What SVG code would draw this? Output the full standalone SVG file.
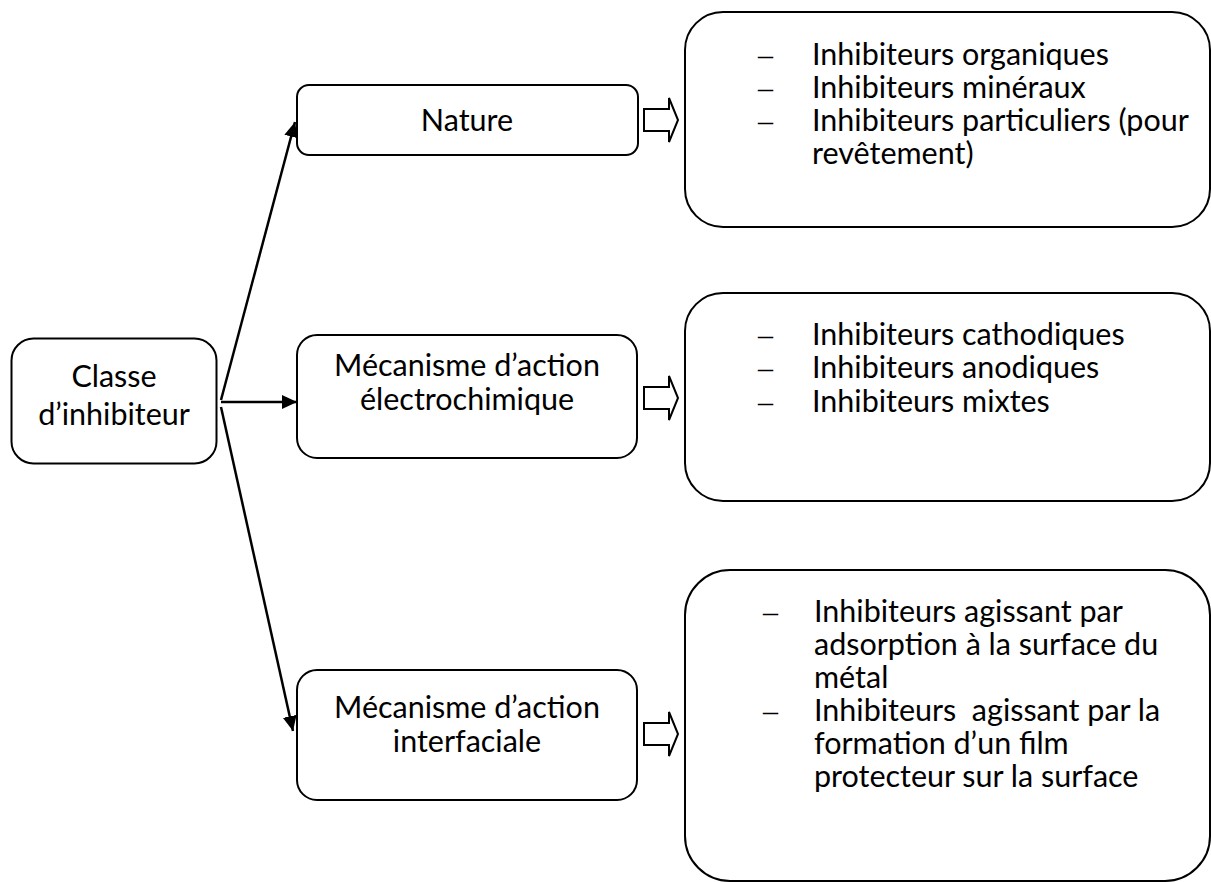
<svg xmlns="http://www.w3.org/2000/svg" width="1211" height="882" viewBox="0 0 1211 882">
<defs>
<style>
.box{fill:#fff;stroke:#000;stroke-width:2}
.t{font-family:Lato,"Open Sans",sans-serif;font-size:30.5px;fill:#000}
.c{text-anchor:middle}
.d{font-family:"Liberation Serif",serif;font-size:30px;fill:#000}
.conn{stroke:#000;stroke-width:2.5;fill:none;marker-end:url(#ah)}
.blk{fill:#fff;stroke:#000;stroke-width:2;stroke-linejoin:miter}
</style>
<marker id="ah" markerUnits="userSpaceOnUse" markerWidth="16" markerHeight="14" refX="15" refY="7" orient="auto">
<path d="M0,0 L15,7 L0,14 z" fill="#000"/>
</marker>
</defs>
<rect width="1211" height="882" fill="#fff"/>
<g id="connectors">
<line class="conn" x1="221" y1="400" x2="295" y2="122"/>
<line class="conn" x1="221" y1="402" x2="297" y2="402"/>
<line class="conn" x1="221" y1="407" x2="293" y2="731"/>
<polygon class="blk" points="644,109 669,109 669,98 678,120 669,142 669,131 644,131"/>
<polygon class="blk" points="644,387 669,387 669,376 678,398 669,420 669,409 644,409"/>
<polygon class="blk" points="644,723 669,723 669,712 678,734 669,756 669,745 644,745"/>
</g>
<g id="classe">
<rect class="box" x="11.5" y="338.5" width="205" height="125" rx="22"/>
<text class="t c" x="114" y="387">Classe</text>
<text class="t c" x="114" y="425">d’inhibiteur</text>
</g>
<g id="nature">
<rect class="box" x="297" y="85" width="341" height="70" rx="12"/>
<text class="t c" x="467" y="131">Nature</text>
</g>
<g id="electro">
<rect class="box" x="297" y="335" width="340" height="123" rx="20"/>
<text class="t c" x="467" y="376">Mécanisme d’action</text>
<text class="t c" x="467" y="410">électrochimique</text>
</g>
<g id="interf">
<rect class="box" x="297" y="670" width="340" height="130" rx="20"/>
<text class="t c" x="467" y="718">Mécanisme d’action</text>
<text class="t c" x="467" y="752">interfaciale</text>
</g>
<g id="liste-nature">
<rect class="box" x="685" y="12" width="525" height="215" rx="38"/>
<text class="d" x="758" y="65">–</text><text class="t" x="812" y="65">Inhibiteurs organiques</text>
<text class="d" x="758" y="98">–</text><text class="t" x="812" y="98">Inhibiteurs minéraux</text>
<text class="d" x="758" y="131">–</text><text class="t" x="812" y="131">Inhibiteurs particuliers (pour</text>
<text class="t" x="812" y="164">revêtement)</text>
</g>
<g id="liste-electro">
<rect class="box" x="685" y="293" width="525" height="208" rx="38"/>
<text class="d" x="758" y="345">–</text><text class="t" x="812" y="345">Inhibiteurs cathodiques</text>
<text class="d" x="758" y="378">–</text><text class="t" x="812" y="378">Inhibiteurs anodiques</text>
<text class="d" x="758" y="412">–</text><text class="t" x="812" y="412">Inhibiteurs mixtes</text>
</g>
<g id="liste-interf">
<rect class="box" x="685" y="570" width="525" height="311" rx="45"/>
<text class="d" x="763" y="622">–</text><text class="t" x="814" y="622">Inhibiteurs agissant par</text>
<text class="t" x="814" y="655">adsorption à la surface du</text>
<text class="t" x="814" y="688">métal</text>
<text class="d" x="763" y="721">–</text><text class="t" x="814" y="721" xml:space="preserve">Inhibiteurs  agissant par la</text>
<text class="t" x="814" y="754">formation d’un film</text>
<text class="t" x="814" y="787">protecteur sur la surface</text>
</g>
</svg>
